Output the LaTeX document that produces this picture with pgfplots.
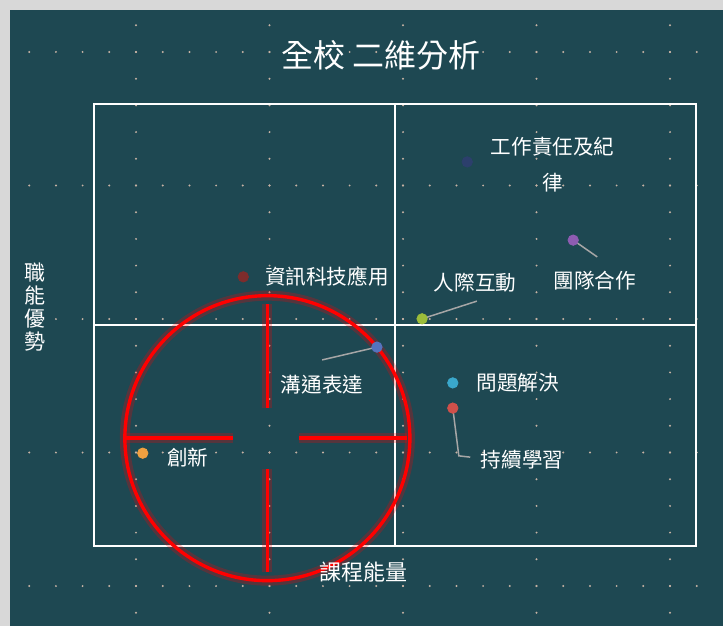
\documentclass[border=0pt]{standalone}
\usepackage{fontspec}
\setmainfont{Noto Sans CJK TC}
\usepackage{pgfplots}
\pgfplotsset{compat=1.18}

\definecolor{panel}{HTML}{1E4852}
\definecolor{edge}{HTML}{D8D8D8}
\definecolor{dotc}{HTML}{C6B2A4}
\definecolor{lead}{HTML}{A6A6A6}
\definecolor{cNavy}{HTML}{2C3F6C}
\definecolor{cPurple}{HTML}{8E5CB2}
\definecolor{cLime}{HTML}{9CBD3A}
\definecolor{cMaroon}{HTML}{7E2C2C}
\definecolor{cBlue}{HTML}{5573BE}
\definecolor{cCyan}{HTML}{3AA8CC}
\definecolor{cRed}{HTML}{D0504A}
\definecolor{cOrange}{HTML}{F0A040}

\tikzset{
  glow/.style={red, line width=5pt, opacity=0.25},
  scope/.style={red, line width=1.7pt},
  lbl/.style={text=white, font=\fontsize{10.3}{12}\selectfont, inner sep=0pt},
}
\pgfplotsset{pt/.style={only marks, mark=*, mark size=2.6pt, color=#1, mark options={fill=#1, draw=#1}}}

\begin{document}
\begin{tikzpicture}
% page = 723 x 626 px, 1px = 0.5pt, origin top left
\useasboundingbox (0,0) rectangle (361.5pt,-313pt);
\begin{scope}[x=0.5pt,y=-0.5pt]
  \fill[edge] (0,0) rectangle (723,626);
  \fill[panel] (10,10) rectangle (723,626);
  % dotted background grid
  \foreach \X in {136,269.5,403,536.5,670}
    \foreach \j in {-1,...,21}
      \fill[dotc] (\X,52+26.7*\j) circle[radius=1.1];
  \foreach \Y in {52,185.5,319,452.5,586}
    \foreach \j in {1,...,26}
      \fill[dotc] (2.5+26.7*\j,\Y) circle[radius=1.1];
\end{scope}

\begin{axis}[
    at={(47pt,-273pt)}, anchor=south west,
    width=301pt, height=221pt, scale only axis,
    xmin=0, xmax=100, ymin=0, ymax=100,
    xtick=\empty, ytick=\empty,
    axis line style={white, line width=0.8pt},
    clip=false,
    title={全校 二維分析},
    title style={at={(axis description cs:0.477,1.084)}, anchor=center,
        text=white, font=\fontsize{16}{18}\selectfont},
    xlabel={課程能量},
    xlabel style={at={(axis description cs:0.447,-0.059)}, anchor=center,
        text=white, font=\fontsize{11}{12}\selectfont},
    ylabel={職\\能\\優\\勢},
    ylabel style={at={(axis description cs:-0.098,0.54)}, anchor=center,
        rotate=-90, align=center, text=white,
        font=\fontsize{10.5}{11.5}\selectfont},
]
% quadrant lines
\draw[white, line width=0.8pt] (axis cs:50,0) -- (axis cs:50,100);
\draw[white, line width=0.8pt] (axis cs:0,50) -- (axis cs:100,50);

% red crosshair
\coordinate (cc) at (axis cs:28.8,24.4);
\draw[glow] (cc) circle[radius=71.25pt];
\draw[glow] ([yshift=67pt]cc) -- ([yshift=15pt]cc);
\draw[glow] ([yshift=-15.5pt]cc) -- ([yshift=-67pt]cc);
\draw[glow] ([xshift=-71pt]cc) -- ([xshift=-17pt]cc);
\draw[glow] ([xshift=16pt]cc) -- ([xshift=70pt]cc);
\draw[scope] (cc) circle[radius=71.25pt];
\draw[scope] ([yshift=67pt]cc) -- ([yshift=15pt]cc);
\draw[scope] ([yshift=-15.5pt]cc) -- ([yshift=-67pt]cc);
\draw[scope] ([xshift=-71pt]cc) -- ([xshift=-17pt]cc);
\draw[scope] ([xshift=16pt]cc) -- ([xshift=70pt]cc);

% leader lines
\draw[lead, line width=0.75pt] (axis cs:79.6,69.2) -- (axis cs:83.6,65.4);
\draw[lead, line width=0.75pt] (axis cs:54.5,51.4) -- (axis cs:63.6,55.4);
\draw[lead, line width=0.75pt] (axis cs:37.9,42.1) -- (axis cs:47.0,45.0);
\draw[lead, line width=0.75pt] (axis cs:59.6,31.2) -- (axis cs:60.6,20.4) -- (axis cs:62.5,20.1);

% points
\addplot[pt=cNavy] coordinates {(62.0,86.9)};
\addplot[pt=cPurple] coordinates {(79.6,69.2)};
\addplot[pt=cLime] coordinates {(54.5,51.4)};
\addplot[pt=cMaroon] coordinates {(24.8,60.9)};
\addplot[pt=cBlue] coordinates {(47.0,45.0)};
\addplot[pt=cCyan] coordinates {(59.6,36.9)};
\addplot[pt=cRed] coordinates {(59.6,31.2)};
\addplot[pt=cOrange] coordinates {(8.1,21.0)};

% labels
\node[lbl] at (axis cs:76.2,90.3) {工作責任及紀};
\node[lbl] at (axis cs:76.2,82.1) {律};
\node[lbl] at (axis cs:83.2,60.0) {團隊合作};
\node[lbl] at (axis cs:63.3,59.5) {人際互動};
\node[lbl] at (axis cs:38.7,60.9) {資訊科技應用};
\node[lbl] at (axis cs:37.9,36.4) {溝通表達};
\node[lbl] at (axis cs:70.4,36.9) {問題解決};
\node[lbl] at (axis cs:71.1,19.5) {持續學習};
\node[lbl] at (axis cs:15.6,20.1) {創新};
\end{axis}
\end{tikzpicture}
\end{document}
